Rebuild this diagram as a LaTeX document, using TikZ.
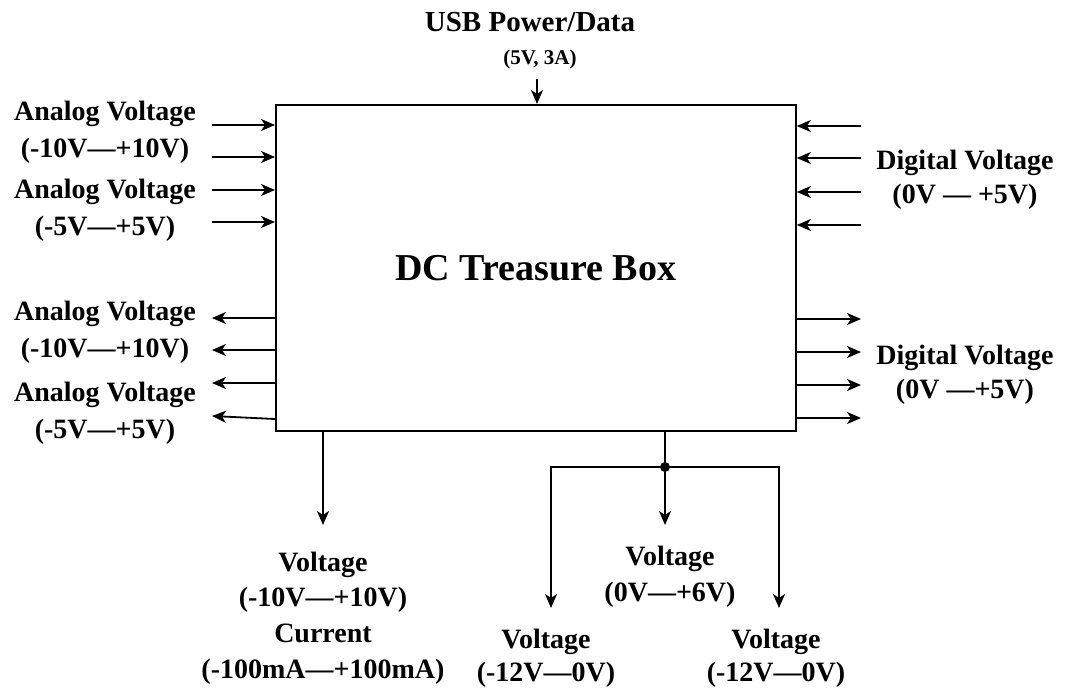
\documentclass[tikz,border=0pt]{standalone}
\usepackage{fontspec}
\setmainfont{Liberation Serif}
\usetikzlibrary{arrows.meta}
\begin{document}
\begin{tikzpicture}[x=1pt,y=-1pt,
  arr/.style={-{Stealth[length=14pt,width=12pt,inset=4pt]}, line width=1.8pt},
  wire/.style={line width=1.8pt},
  lbl/.style={font=\fontsize{28}{37}\selectfont\bfseries, inner sep=0pt, align=center},
  lbls/.style={font=\fontsize{28}{34}\selectfont\bfseries, inner sep=0pt, align=center}]
\useasboundingbox (0,0) rectangle (1065,696);
\node[draw, line width=1.8pt, minimum width=520pt, minimum height=326pt, anchor=north west,
      font=\fontsize{38}{44}\selectfont\bfseries] (box) at (275,104) {DC Treasure Box};
% top
\node[font=\fontsize{29}{32}\selectfont\bfseries, inner sep=0pt] (usbt) at (530,22) {USB Power/Data};
\node[font=\fontsize{21}{24}\selectfont\bfseries, inner sep=0pt] (usbs) at (540,59) {(5V, 3A)};
\coordinate (usb) at (537,79);
\draw[arr] (usb) -- (usb |- box.north);
% left inputs
\foreach \y [count=\i] in {125,157,190,222} {
  \coordinate (li\i) at (212,\y);
  \draw[arr] (li\i) -- (li\i -| box.west);
}
% left outputs
\foreach \y [count=\i] in {318,350,383} {
  \coordinate (lo\i) at (212,\y);
  \draw[arr] (lo\i -| box.west) -- (lo\i);
}
\coordinate (lo4) at (212,416);
\coordinate (lo4s) at (275,419);
\draw[arr] (lo4s) -- (lo4);
% right inputs
\foreach \y [count=\i] in {126,158,192,225} {
  \coordinate (ri\i) at (861,\y);
  \draw[arr] (ri\i) -- (ri\i -| box.east);
}
% right outputs
\foreach \y [count=\i] in {319,352,385,418} {
  \coordinate (ro\i) at (861,\y);
  \draw[arr] (ro\i -| box.east) -- (ro\i);
}
% left labels
\node[lbl] (la1) at (105,132) {Analog Voltage\\(-10V—+10V)};
\node[lbl] (la2) at (105,210) {Analog Voltage\\(-5V—+5V)};
\node[lbl] (la3) at (105,332) {Analog Voltage\\(-10V—+10V)};
\node[lbl] (la4) at (105,413) {Analog Voltage\\(-5V—+5V)};
% right labels
\node[lbls] (ra1) at (965,180) {Digital Voltage\\(0V — +5V)};
\node[lbls] (ra2) at (965,375) {Digital Voltage\\(0V —+5V)};
% bottom left
\coordinate (b1) at (323,525);
\draw[arr] (b1 |- box.south) -- (b1);
\node[font=\fontsize{28}{35.7}\selectfont\bfseries, inner sep=0pt, align=center] (bl1) at (323,618)
  {Voltage\\(-10V—+10V)\\Current\\(-100mA—+100mA)};
% bottom right
\coordinate (j) at (665,467);
\coordinate (jm) at (665,525);
\coordinate (jl) at (551,608);
\coordinate (jr) at (779,608);
\draw[wire] (j |- box.south) -- (j);
\draw[arr] (j) -- (jm);
\draw[arr] (j) -| (jl);
\draw[arr] (j) -| (jr);
\fill (j) circle (5pt);
\node[lbl, font=\fontsize{28}{36}\selectfont\bfseries] (bm) at (670,577) {Voltage\\(0V—+6V)};
\node[lbl, font=\fontsize{28}{33}\selectfont\bfseries] (bl) at (546,658) {Voltage\\(-12V—0V)};
\node[lbl, font=\fontsize{28}{33}\selectfont\bfseries] (br) at (776,658) {Voltage\\(-12V—0V)};
\end{tikzpicture}
\end{document}
